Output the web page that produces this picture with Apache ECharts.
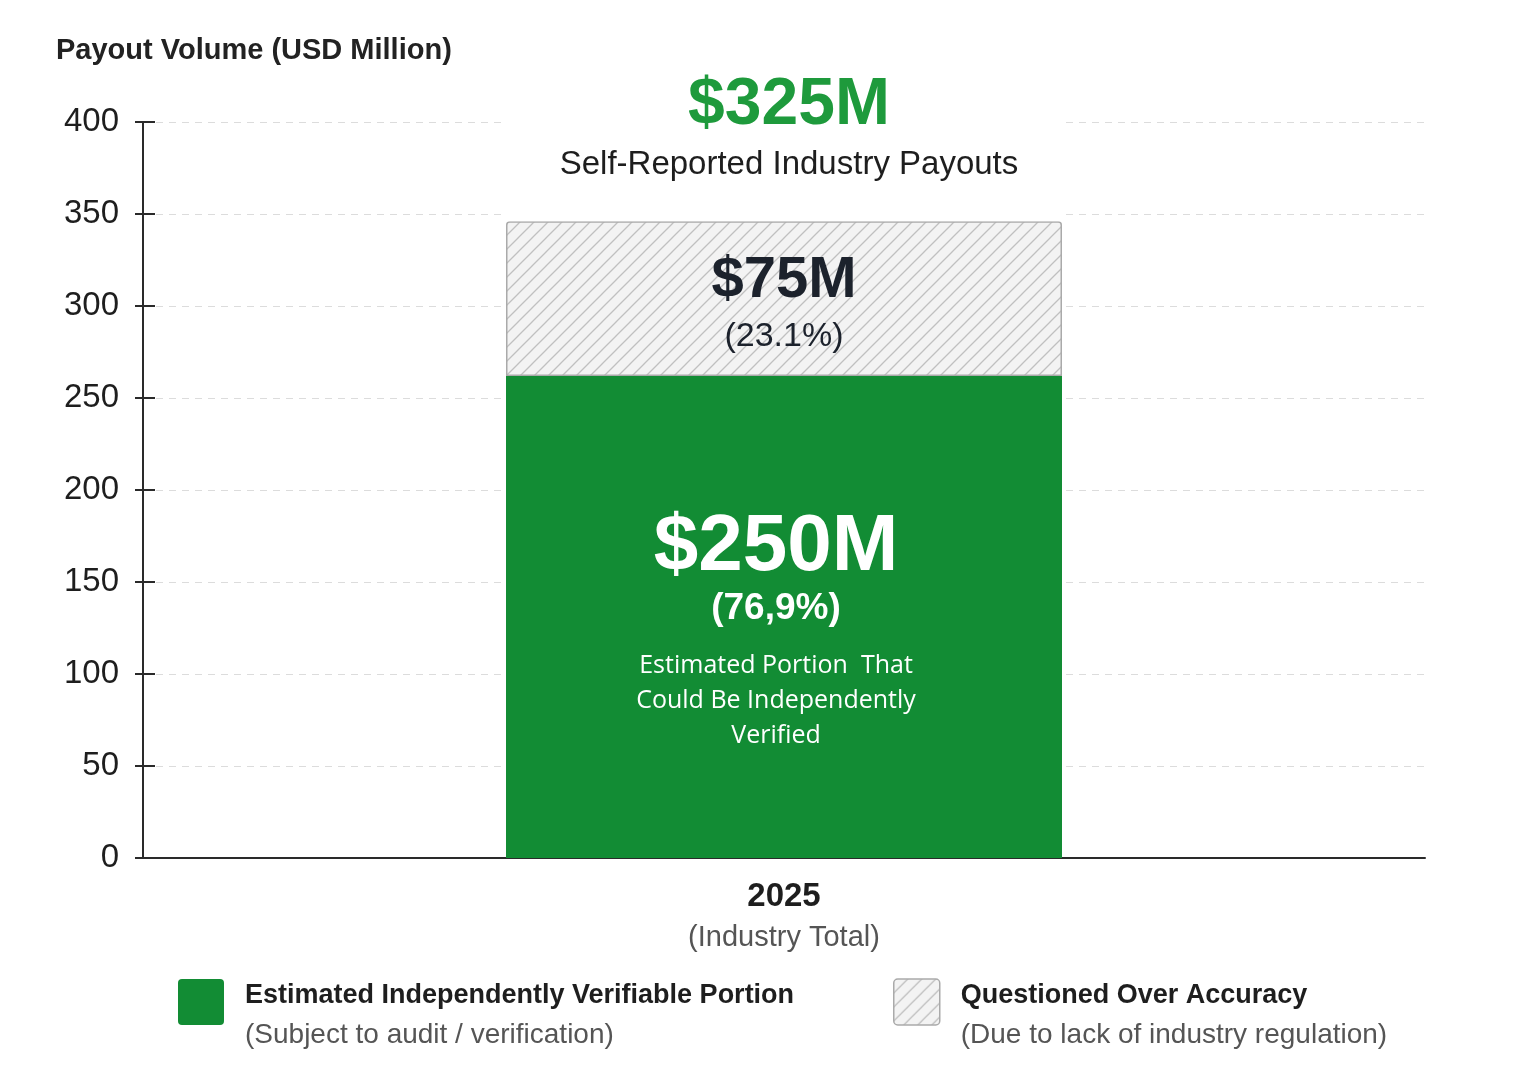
<!DOCTYPE html>
<html>
<head>
<meta charset="utf-8">
<script src="https://cdn.jsdelivr.net/npm/echarts@6/dist/echarts.min.js"></script>
<style>html,body{margin:0;padding:0;background:#fff;}#chart{width:1531px;height:1080px;}</style>
</head>
<body>
<div id="chart"></div>
<script>
// ---- data ----
const categories = ['2025'];
const categorySubLabels = ['(Industry Total)'];
const verifiableValues = [262];   // bar height as drawn (labelled $250M)
const questionedValues = [84];    // bar height as drawn (labelled $75M)
const yTicks = [0, 50, 100, 150, 200, 250, 300, 350, 400];
const seriesNames = ['Estimated Independently Verifiable Portion', 'Questioned Over Accuracy'];
const seriesSubNames = ['(Subject to audit / verification)', '(Due to lack of industry regulation)'];
const totalLabel = '$325M';
const totalSubLabel = 'Self-Reported Industry Payouts';
const verifiableLabel = ['$250M', '(76,9%)', 'Estimated Portion  That\nCould Be Independently\nVerified'];
const questionedLabel = ['$75M', '(23.1%)'];
const yAxisTitle = 'Payout Volume (USD Million)';

const yMin = yTicks[0], yMax = yTicks[yTicks.length - 1], yStep = yTicks[1] - yTicks[0];
const padValues = verifiableValues.map((v, i) => yMax - v - questionedValues[i]);

// hatch pattern
function makeHatch() {
  const s = 14;
  const c = document.createElement('canvas');
  c.width = s; c.height = s;
  const g = c.getContext('2d');
  g.fillStyle = '#f3f3f3';
  g.fillRect(0, 0, s, s);
  g.strokeStyle = '#c0c0c0';
  g.lineWidth = 1.3;
  g.beginPath();
  g.moveTo(0, s); g.lineTo(s, 0);
  g.moveTo(-2, 2); g.lineTo(2, -2);
  g.moveTo(s - 2, s + 2); g.lineTo(s + 2, s - 2);
  g.stroke();
  return c;
}
const hatch = { image: makeHatch(), repeat: 'repeat' };

const GREEN = '#128c34';
const FONT = '"Liberation Sans", Arial, sans-serif';
const FONT2 = '"Open Sans", "Noto Sans", sans-serif';
const LEGEND_ICON = 'path://M4,0 H42 A4,4 0 0 1 46,4 V42 A4,4 0 0 1 42,46 H4 A4,4 0 0 1 0,42 V4 A4,4 0 0 1 4,0 Z';

const chart = echarts.init(document.getElementById('chart'), null, { renderer: 'canvas' });

function legendFmt(idx) {
  return function () {
    return '{s| }\n{a|' + seriesNames[idx] + '}\n{b|' + seriesSubNames[idx] + '}';
  };
}
const legendRich = {
  s: { fontSize: 1, lineHeight: 28 },
  a: { fontFamily: FONT, fontSize: 27, fontWeight: 'bold', color: '#1e1e1e', lineHeight: 38, padding: [0, 0, 0, 16] },
  b: { fontFamily: FONT, fontSize: 28, color: '#555', lineHeight: 41, padding: [0, 0, 0, 16] }
};

chart.setOption({
  backgroundColor: '#ffffff',
  animation: false,
  title: {
    text: yAxisTitle,
    left: 51, top: 31,
    textStyle: { fontFamily: FONT, fontSize: 29, fontWeight: 'bold', color: '#222' }
  },
  grid: { left: 143, right: 106, top: 122, bottom: 222, containLabel: false },
  legend: [
    {
      data: [{ name: seriesNames[0], icon: LEGEND_ICON, itemStyle: { color: GREEN } }],
      left: 178, top: 962, padding: 0,
      itemWidth: 46, itemHeight: 46,
      formatter: legendFmt(0),
      textStyle: { rich: legendRich },
      selectedMode: false
    },
    {
      data: [{ name: seriesNames[1], icon: LEGEND_ICON, itemStyle: { color: hatch, borderColor: '#aaaaaa', borderWidth: 1.5 } }],
      left: 893, top: 962, padding: 0,
      itemWidth: 46, itemHeight: 46,
      formatter: legendFmt(1),
      textStyle: { rich: legendRich },
      selectedMode: false
    }
  ],
  xAxis: {
    type: 'category',
    data: categories,
    axisLine: { lineStyle: { color: '#2a2a2a', width: 2 } },
    axisTick: { show: false },
    axisLabel: {
      margin: 20,
      formatter: (v, i) => '{a|' + v + '}\n{b|' + categorySubLabels[i] + '}',
      rich: {
        a: { fontFamily: FONT, fontSize: 33, fontWeight: 'bold', color: '#1e1e1e', lineHeight: 38 },
        b: { fontFamily: FONT, fontSize: 29, color: '#555', lineHeight: 44 }
      }
    }
  },
  yAxis: [
    {
      type: 'value',
      min: yMin, max: yMax, interval: yStep,
      axisLine: { show: true, lineStyle: { color: '#2a2a2a', width: 2 } },
      axisTick: { show: true, length: 8, lineStyle: { color: '#2a2a2a', width: 2 } },
      axisLabel: { margin: 24, fontFamily: FONT, fontSize: 33, color: '#1e1e1e' },
      splitLine: { show: true, lineStyle: { color: '#dcdcdc', type: [7, 6], width: 1.2 } }
    },
    {
      type: 'value',
      position: 'left',
      min: yMin, max: yMax, interval: yStep,
      axisLine: { show: false },
      axisTick: { show: true, inside: true, length: 12, lineStyle: { color: '#2a2a2a', width: 2 } },
      axisLabel: { show: false },
      splitLine: { show: false }
    }
  ],
  series: [
    {
      name: seriesNames[0],
      type: 'bar',
      stack: 'total',
      barWidth: 556,
      data: verifiableValues,
      itemStyle: { color: GREEN },
      label: {
        show: true, position: 'inside', offset: [-8, 13],
        formatter: () => '{a|' + verifiableLabel[0] + '}\n{b|' + verifiableLabel[1] + '}\n{s| }\n{c|' + verifiableLabel[2].split('\n').join('}\n{c|') + '}',
        rich: {
          a: { fontFamily: FONT, fontSize: 80, fontWeight: 'bold', color: '#fff', lineHeight: 82 },
          b: { fontFamily: FONT, fontSize: 37, fontWeight: 'bold', color: '#fff', lineHeight: 40 },
          s: { fontSize: 1, lineHeight: 20 },
          c: { fontFamily: FONT2, fontSize: 25, color: '#fff', lineHeight: 35 }
        }
      }
    },
    {
      name: seriesNames[1],
      type: 'bar',
      stack: 'total',
      data: questionedValues,
      itemStyle: { color: hatch, borderColor: '#aaaaaa', borderWidth: 1.5, borderRadius: [3, 3, 0, 0] },
      label: {
        show: true, position: 'inside', offset: [0, 7],
        formatter: () => '{a|' + questionedLabel[0] + '}\n{b|' + questionedLabel[1] + '}',
        rich: {
          a: { fontFamily: FONT, fontSize: 58, fontWeight: 'bold', color: '#1c222c', lineHeight: 62 },
          b: { fontFamily: FONT, fontSize: 34, color: '#1c222c', lineHeight: 50 }
        }
      }
    },
    {
      name: 'pad',
      type: 'bar',
      stack: 'total',
      silent: true,
      data: padValues,
      itemStyle: { color: '#ffffff' },
      label: {
        show: true, position: 'inside', offset: [5, -42],
        formatter: () => '{a|' + totalLabel + '}\n{b|' + totalSubLabel + '}',
        rich: {
          a: { fontFamily: FONT, fontSize: 66, fontWeight: 'bold', color: '#1e9a3c', lineHeight: 70 },
          b: { fontFamily: FONT, fontSize: 33, color: '#1e1e1e', lineHeight: 48 }
        }
      }
    }
  ]
});
</script>
</body>
</html>
